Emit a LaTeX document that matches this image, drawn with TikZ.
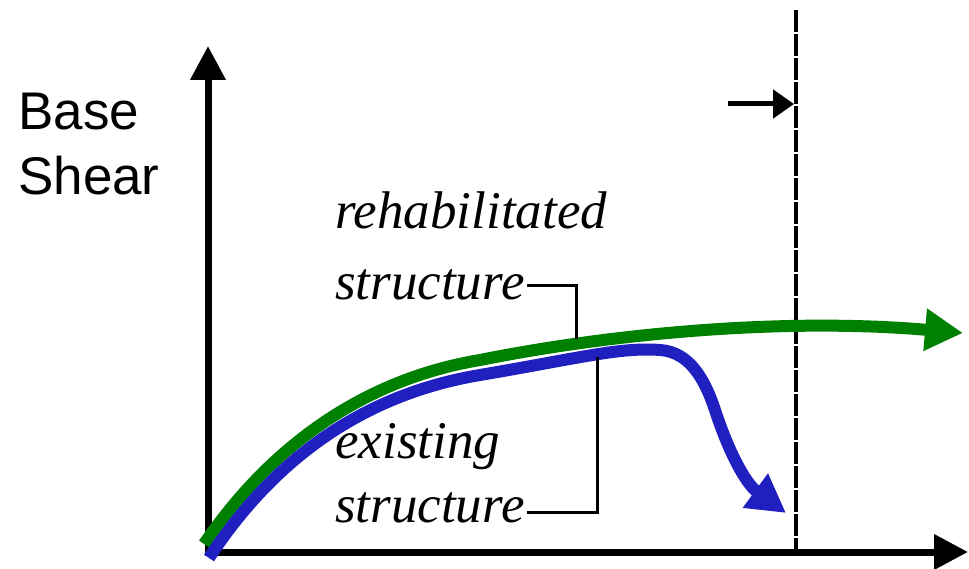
\documentclass[tikz,border=0pt]{standalone}
\usepackage{fontspec}
\setmainfont{Liberation Serif}
\newfontfamily\labelsans{Liberation Sans}
\usetikzlibrary{arrows.meta,positioning}
\definecolor{curvegreen}{RGB}{0,128,0}
\definecolor{curveblue}{RGB}{32,32,192}

\tikzset{
  axis/.style={line width=7pt,-{Triangle[length=34pt,width=34pt]}},
  curve/.style={line width=12pt,-{Triangle[length=38pt,width=40pt]}},
  leader/.style={line width=3pt},
  curvelabel/.style={inner sep=2pt,anchor=base west,font=\fontsize{53}{60}\selectfont\itshape}
}

\begin{document}
\begin{tikzpicture}[x=1pt,y=-1pt]
    \useasboundingbox (0,0) rectangle (969,569);
    % axes
    \coordinate (origin) at (208,552);
    \coordinate (ytop) at (208,46);
    \coordinate (xend) at (968,552);
    \draw[axis] ([yshift=-3.5pt]origin) -- (ytop);
    \draw[axis] ([xshift=-3.5pt]origin) -- (xend);
    \node[inner sep=2pt,anchor=base west,align=left,
          font=\labelsans\fontsize{53}{65}\selectfont] (vlabel) at (16,195) {Base\\Shear};
    % limit line
    \coordinate (limtop) at (796,10);
    \coordinate (limbot) at (796,552);
    \draw[line width=4pt,dash pattern=on 22pt off 2pt] (limtop) -- (limbot);
    \coordinate (shiftA) at (728,104);
    \coordinate (shiftB) at (794,104);
    \draw[line width=5pt,-{Triangle[length=21pt,width=28pt]}] (shiftA) -- (shiftB);
    % curves
    \draw[curve,curvegreen] (204,544) .. controls (268,450) and (360,380) .. (480,360)
      .. controls (620,332) and (790,318) .. (963,333);
    \draw[curve,curveblue] (209,558) .. controls (272,462) and (360,395) .. (480,375)
      .. controls (580,358) and (620,347) .. (660,350)
      .. controls (690,352) and (705,380) .. (715,410)
      .. controls (728,450) and (745,483) .. (786,513);
    % labels
    \node[curvelabel] (rehabA) at (333,229) {rehabilitated};
    \node[curvelabel] (rehabB) at (333,300) {structure};
    \node[curvelabel] (existA) at (333,458) {existing};
    \node[curvelabel] (existB) at (333,522) {structure};
    \coordinate (onGreen) at (576,339);
    \coordinate (onBlue) at (597,357);
    \draw[leader] (rehabB.east) -| (onGreen);
    \draw[leader] ([yshift=-5pt]existB.east) -| (onBlue);
  \end{tikzpicture}
\end{document}
